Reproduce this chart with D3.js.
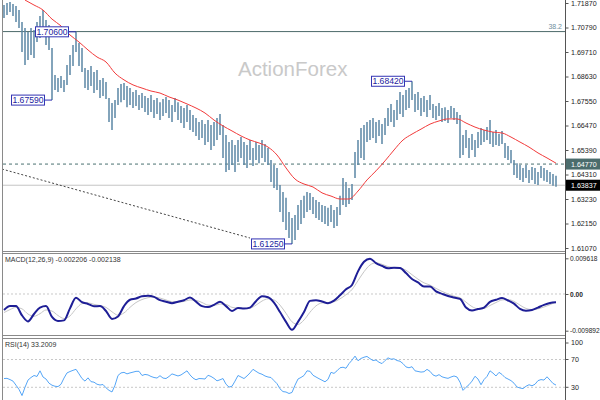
<!DOCTYPE html>
<html><head><meta charset="utf-8">
<script src="https://cdn.jsdelivr.net/npm/d3@7"></script>
<style>
body{margin:0;background:#fff}
svg{display:block}
text{font-family:"Liberation Sans",Arial,sans-serif}
</style>
</head><body>
<svg id="chart" width="600" height="400"></svg>
<script>
// ---------- DATA ----------
const barHigh = [1.7178,1.7187,1.7191,1.7183,1.7174,1.7156,1.7103,1.7077,1.7059,1.7077,
1.7068,1.7103,1.7130,1.7156,1.7112,1.7090,1.6989,1.6870,1.6856,1.6865,
1.6848,1.6914,1.6958,1.7002,1.7060,1.7011,1.6989,1.6900,1.6892,1.6909,
1.6883,1.6892,1.6848,1.6856,1.6839,1.6768,1.6746,1.6759,1.6812,1.6830,
1.6834,1.6821,1.6812,1.6795,1.6804,1.6782,1.6790,1.6777,1.6768,1.6782,
1.6759,1.6768,1.6750,1.6764,1.6773,1.6759,1.6737,1.6768,1.6750,1.6733,
1.6724,1.6737,1.6715,1.6693,1.6680,1.6662,1.6671,1.6654,1.6671,1.6649,
1.6662,1.6680,1.6698,1.6649,1.6605,1.6574,1.6583,1.6561,1.6583,1.6596,
1.6574,1.6561,1.6583,1.6548,1.6574,1.6561,1.6583,1.6565,1.6548,1.6495,
1.6473,1.6460,1.6385,1.6354,1.6328,1.6266,1.6239,1.6252,1.6297,1.6319,
1.6337,1.6354,1.6350,1.6332,1.6319,1.6310,1.6297,1.6292,1.6284,1.6297,
1.6275,1.6288,1.6337,1.6416,1.6398,1.6372,1.6389,1.6530,1.6583,1.6636,
1.6649,1.6662,1.6671,1.6680,1.6662,1.6671,1.6654,1.6680,1.6724,1.6742,
1.6715,1.6759,1.6795,1.6782,1.6804,1.6812,1.6842,1.6786,1.6795,1.6768,
1.6777,1.6759,1.6782,1.6742,1.6733,1.6746,1.6724,1.6728,1.6715,1.6733,
1.6724,1.6706,1.6693,1.6605,1.6627,1.6592,1.6609,1.6583,1.6618,1.6636,
1.6627,1.6640,1.6671,1.6618,1.6627,1.6609,1.6623,1.6570,1.6557,1.6539,
1.6495,1.6481,1.6473,1.6460,1.6473,1.6451,1.6464,1.6460,1.6442,1.6468,
1.6460,1.6451,1.6442,1.6433,1.6425];
const barLow = [1.7121,1.7134,1.7147,1.7130,1.7103,1.7077,1.6971,1.6914,1.6936,1.6958,
1.6945,1.7015,1.7033,1.7059,1.7002,1.6980,1.6759,1.6804,1.6795,1.6812,
1.6795,1.6826,1.6870,1.6909,1.6971,1.6909,1.6883,1.6812,1.6804,1.6821,
1.6790,1.6804,1.6768,1.6777,1.6764,1.6662,1.6627,1.6680,1.6737,1.6750,
1.6759,1.6728,1.6737,1.6724,1.6733,1.6715,1.6724,1.6706,1.6693,1.6706,
1.6680,1.6698,1.6671,1.6689,1.6702,1.6680,1.6662,1.6706,1.6671,1.6658,
1.6636,1.6662,1.6627,1.6618,1.6601,1.6583,1.6592,1.6561,1.6574,1.6539,
1.6557,1.6583,1.6605,1.6504,1.6442,1.6451,1.6473,1.6442,1.6486,1.6504,
1.6473,1.6460,1.6495,1.6468,1.6495,1.6481,1.6504,1.6486,1.6473,1.6398,
1.6372,1.6363,1.6266,1.6222,1.6186,1.6151,1.6125,1.6142,1.6186,1.6213,
1.6239,1.6266,1.6275,1.6257,1.6239,1.6230,1.6222,1.6213,1.6204,1.6222,
1.6195,1.6204,1.6252,1.6297,1.6288,1.6301,1.6319,1.6416,1.6473,1.6504,
1.6495,1.6574,1.6583,1.6592,1.6570,1.6601,1.6565,1.6605,1.6645,1.6662,
1.6640,1.6671,1.6698,1.6685,1.6715,1.6724,1.6759,1.6706,1.6715,1.6689,
1.6706,1.6685,1.6715,1.6680,1.6671,1.6689,1.6662,1.6667,1.6658,1.6680,
1.6671,1.6654,1.6504,1.6517,1.6548,1.6504,1.6539,1.6508,1.6548,1.6561,
1.6574,1.6583,1.6565,1.6552,1.6561,1.6557,1.6565,1.6504,1.6495,1.6481,
1.6429,1.6416,1.6407,1.6398,1.6416,1.6394,1.6407,1.6389,1.6385,1.6416,
1.6403,1.6398,1.6389,1.6381,1.6377];

const maBars = [7,10,13,16,19,22,25,28,31,34,37,40,43,46,49,52,55,58,61,64,
67,70,73,76,79,82,85,88,91,94,97,100,103,106,109,112,115,118,121,124,
127,130,133,136,139,142,145,148,151,154,157,160,163,166,169,172,175,178,181,184];
const maValues = [1.7200,1.7178,1.7156,1.7116,1.7086,1.7046,1.7015,1.6980,1.6949,1.6927,
1.6878,1.6848,1.6826,1.6812,1.6799,1.6790,1.6773,1.6759,1.6742,1.6724,
1.6702,1.6671,1.6645,1.6623,1.6601,1.6583,1.6570,1.6552,1.6517,1.6460,
1.6411,1.6389,1.6376,1.6350,1.6336,1.6323,1.6323,1.6358,1.6407,1.6447,
1.6491,1.6539,1.6583,1.6609,1.6631,1.6653,1.6667,1.6676,1.6676,1.6658,
1.6640,1.6627,1.6618,1.6614,1.6596,1.6574,1.6552,1.6526,1.6504,1.6481];

const macdValues = [-0.00433,-0.00326,-0.00326,-0.00579,-0.00738,-0.00539,-0.00366,-0.00326,-0.00618,-0.00725,
-0.00711,-0.00387,-0.00101,-0.00220,-0.00268,-0.00332,-0.00326,-0.00459,-0.00671,-0.00605,
-0.00326,-0.00154,-0.00122,-0.00061,-0.00050,-0.00077,-0.00167,-0.00207,-0.00247,-0.00207,
-0.00167,-0.00096,-0.00207,-0.00326,-0.00353,-0.00292,-0.00212,-0.00326,-0.00459,-0.00380,
-0.00393,-0.00366,-0.00194,-0.00061,-0.00088,-0.00234,-0.00486,-0.00751,-0.00963,-0.00751,
-0.00486,-0.00186,-0.00167,-0.00202,-0.00247,-0.00180,-0.00035,0.00125,0.00244,0.00610,
0.00868,0.00950,0.00833,0.00756,0.00695,0.00709,0.00701,0.00563,0.00403,0.00311,
0.00204,0.00204,0.00072,0.00005,-0.00056,-0.00096,-0.00130,-0.00366,-0.00446,-0.00406,
-0.00366,-0.00212,-0.00157,-0.00109,-0.00175,-0.00260,-0.00401,-0.00449,-0.00433,-0.00366,
-0.00295,-0.00242,-0.002206];
const signalValues = [-0.0050,-0.0042,-0.0036,-0.0040,-0.0054,-0.0060,-0.0053,-0.0043,-0.0046,-0.0058,
-0.0066,-0.0059,-0.0040,-0.0026,-0.0024,-0.0028,-0.0031,-0.0036,-0.0048,-0.0057,
-0.0051,-0.0036,-0.0023,-0.0015,-0.0010,-0.0008,-0.0011,-0.0016,-0.0021,-0.0022,
-0.0020,-0.0016,-0.0017,-0.0023,-0.0030,-0.0031,-0.0027,-0.0028,-0.0036,-0.0038,
-0.0039,-0.0038,-0.0030,-0.0019,-0.0013,-0.0016,-0.0030,-0.0052,-0.0075,-0.0082,
-0.0070,-0.0049,-0.0032,-0.0024,-0.0023,-0.0021,-0.0013,-0.0002,0.0012,0.0036,
0.0060,0.0078,0.0084,0.0080,0.0074,0.0071,0.0070,0.0064,0.0052,0.0040,
0.0030,0.0024,0.0015,0.0007,0.0000,-0.0006,-0.0010,-0.0022,-0.0034,-0.0040,
-0.0039,-0.0031,-0.0023,-0.0016,-0.0015,-0.0020,-0.0030,-0.0039,-0.0042,-0.0040,
-0.0035,-0.0029,-0.002138];

const rsiValues = [42.6,42.9,41.1,38.9,33.0,27.0,18.1,30.0,40.4,44.1,
47.0,45.6,53.7,44.8,41.9,35.9,33.0,31.5,31.0,34.4,
43.3,50.7,52.7,54.4,55.9,49.3,42.6,38.9,43.6,38.1,
37.4,34.4,33.3,34.0,29.3,25.6,23.3,33.0,47.0,50.7,
51.5,49.3,50.7,51.8,53.0,53.0,47.0,48.5,47.8,45.6,
44.1,43.3,46.7,43.3,42.6,45.6,49.3,47.8,46.3,47.8,
50.7,53.7,47.8,43.3,40.8,42.6,42.4,41.9,47.3,45.6,
42.9,39.3,40.8,42.6,34.4,30.3,31.5,38.9,47.0,44.8,
42.6,46.3,50.7,55.9,53.0,50.3,48.8,46.3,44.8,44.1,
39.6,35.2,27.8,23.8,23.2,21.1,22.6,33.0,41.9,44.2,
47.0,53.7,53.0,47.3,44.8,42.4,40.2,37.9,41.4,51.5,
50.0,53.7,58.1,58.9,57.4,64.1,69.0,74.9,68.2,71.5,
73.3,74.4,71.2,68.5,69.3,66.0,64.1,68.5,72.4,70.4,
71.0,68.5,67.5,64.1,59.3,58.1,59.6,53.7,52.8,51.9,
52.4,55.8,53.0,47.8,46.0,48.2,45.1,43.8,42.9,44.8,
46.3,44.8,37.4,25.6,30.0,33.7,38.9,45.9,41.9,33.7,
41.1,45.6,53.7,50.4,46.3,51.5,48.5,44.1,41.9,39.6,
35.9,30.4,29.0,28.1,31.5,33.7,32.2,34.4,39.6,41.1,
40.4,45.1,40.4,35.5,33.2];

const priceTicks = [1.71870,1.70790,1.69710,1.68630,1.67550,1.66470,1.65390,1.64310,1.63230,1.62150,1.61070];
const macdTicks = [0.009618,0,-0.009892];
const rsiTicks = [100,70,30];
const rsiLevels = [70,30];

const annBars = [24,16,136,96];
const annPrices = [1.70600,1.67590,1.68420,1.61250];

const fibLevel = 1.7061, fibLabel = "38.2";
const resistLevel = 1.64770;
const lastPrice = 1.63837;
const trendBars = [-0.67,82];
const trendPrices = [1.6455,1.6151];

const macdTitle = "MACD(12,26,9) -0.002206 -0.002138";
const rsiTitle = "RSI(14) 33.2009";
const watermark = "ActionForex";

// ---------- SCALES ----------
const svg = d3.select("#chart");
const N = barHigh.length;
const AX = 565;
const x = d3.scaleLinear().domain([0, N-1]).range([4, 556]);
const yP = d3.scaleLinear().domain([1.6107, 1.7187]).range([248, 3]);
const yM = d3.scaleLinear().domain([-0.009892, 0.009618]).range([330.7, 258.3]);
const yR = d3.scaleLinear().domain([30, 70]).range([387.3, 359.5]);
const macdBars = d3.range(0, N, 2);

svg.append("rect").attr("width",600).attr("height",400).attr("fill","#fff");
const defs = svg.append("defs");
function clip(id,x0,y0,w,h){defs.append("clipPath").attr("id",id).append("rect").attr("x",x0).attr("y",y0).attr("width",w).attr("height",h);}
clip("cMain",3,0,AX-3,251);
clip("cMacd",3,254,AX-3,81);
clip("cRsi",3,339,AX-3,61);

// ---------- MAIN PANEL ----------
const main = svg.append("g").attr("clip-path","url(#cMain)");
main.append("text").attr("x",238).attr("y",76).attr("font-size",20.5)
  .attr("fill","#c9c9c9").text(watermark);

main.append("line").attr("x1",3).attr("x2",AX).attr("y1",yP(fibLevel)).attr("y2",yP(fibLevel))
  .attr("stroke","#4c6a6a").attr("stroke-width",1);
main.append("text").attr("x",AX-3).attr("y",yP(fibLevel)-3).attr("text-anchor","end")
  .attr("font-size",7).attr("fill","#6f8fa0").text(fibLabel);

main.append("line").attr("x1",3).attr("x2",AX).attr("y1",yP(resistLevel)).attr("y2",yP(resistLevel))
  .attr("stroke","#4a7070").attr("stroke-dasharray","3,3");
main.append("line").attr("x1",3).attr("x2",AX).attr("y1",yP(lastPrice)).attr("y2",yP(lastPrice))
  .attr("stroke","#c4c4c4");

main.append("line")
  .attr("x1",x(trendBars[0])).attr("y1",yP(trendPrices[0]))
  .attr("x2",x(trendBars[1])).attr("y2",yP(trendPrices[1]))
  .attr("stroke","#444").attr("stroke-dasharray","2,2");

main.append("g").selectAll("line").data(d3.range(N)).join("line")
  .attr("x1",i=>x(i)).attr("x2",i=>x(i))
  .attr("y1",i=>yP(barHigh[i])).attr("y2",i=>yP(barLow[i]))
  .attr("stroke","#5a86a4").attr("stroke-width",1.5);

main.append("path").datum(maBars.map((b,k)=>[b,maValues[k]]))
  .attr("fill","none").attr("stroke","#f23b3b").attr("stroke-width",1)
  .attr("d",d3.line().x(d=>x(d[0])).y(d=>yP(d[1])).curve(d3.curveMonotoneX));

const fmtP = d3.format(".5f");
const ann = main.append("g");
annBars.forEach((b,k)=>{
  const bx = x(b), by = yP(annPrices[k]);
  ann.append("line").attr("x1",bx-7).attr("x2",bx).attr("y1",by).attr("y2",by)
    .attr("stroke","#3030b0");
  ann.append("rect").attr("x",bx-40.5).attr("y",by-5).attr("width",33).attr("height",10)
    .attr("fill","#fff").attr("stroke","#3434b4");
  ann.append("text").attr("x",bx-24).attr("y",by+3.2).attr("text-anchor","middle")
    .attr("font-size",8.6).attr("fill","#1c1ca0").text(fmtP(annPrices[k]));
});

// ---------- MACD PANEL ----------
const mg = svg.append("g").attr("clip-path","url(#cMacd)");
mg.append("line").attr("x1",3).attr("x2",AX).attr("y1",yM(0)).attr("y2",yM(0))
  .attr("stroke","#c8c8c8").attr("stroke-dasharray","2,2");
mg.append("path").datum(macdBars.map((b,k)=>[b,signalValues[k]]))
  .attr("fill","none").attr("stroke","#c6c6c6").attr("stroke-width",1)
  .attr("d",d3.line().x(d=>x(d[0])).y(d=>yM(d[1])).curve(d3.curveMonotoneX));
mg.append("path").datum(macdBars.map((b,k)=>[b,macdValues[k]]))
  .attr("fill","none").attr("stroke","#1e1e96").attr("stroke-width",2)
  .attr("d",d3.line().x(d=>x(d[0])).y(d=>yM(d[1])).curve(d3.curveMonotoneX));
svg.append("text").attr("x",5).attr("y",262).attr("font-size",7).attr("fill","#333").text(macdTitle);

// ---------- RSI PANEL ----------
const rg = svg.append("g").attr("clip-path","url(#cRsi)");
rg.selectAll("line.lvl").data(rsiLevels).join("line")
  .attr("x1",3).attr("x2",AX).attr("y1",d=>yR(d)).attr("y2",d=>yR(d))
  .attr("stroke","#c8c8c8").attr("stroke-dasharray","2,2");
rg.append("path").datum(rsiValues)
  .attr("fill","none").attr("stroke","#55a6f7").attr("stroke-width",1)
  .attr("d",d3.line().x((d,i)=>x(i)).y(d=>yR(d)));
svg.append("text").attr("x",5).attr("y",347).attr("font-size",7).attr("fill","#333").text(rsiTitle);

// ---------- FRAMES ----------
const fr = svg.append("g").attr("stroke","#8a8a8a").attr("fill","none");
fr.append("line").attr("x1",2.5).attr("x2",2.5).attr("y1",0).attr("y2",400);
[251.5,253.5,335.5,338.5].forEach(yy=>fr.append("line").attr("x1",2).attr("x2",AX).attr("y1",yy).attr("y2",yy));
svg.append("line").attr("x1",AX+0.5).attr("x2",AX+0.5).attr("y1",0).attr("y2",400).attr("stroke","#555");

// ---------- AXES ----------
function styleAxis(size){
  return g=>{
    g.select(".domain").remove();
    g.selectAll("line").attr("stroke","#555");
    g.selectAll("text").attr("font-size",size).attr("fill","#1e1e1e")
      .attr("font-family","'Liberation Sans',Arial,sans-serif");
  };
}
svg.append("g").attr("transform",`translate(${AX+0.5},0)`)
  .call(d3.axisRight(yP).tickValues(priceTicks).tickFormat(fmtP).tickSize(3).tickPadding(2.5))
  .call(styleAxis(7.1));
svg.append("g").attr("transform",`translate(${AX+0.5},0)`)
  .call(d3.axisRight(yM).tickValues(macdTicks).tickFormat(d=>d===0?"0.00":d.toFixed(6)).tickSize(3).tickPadding(1.5))
  .call(styleAxis(6.6))
  .selectAll("text").attr("font-weight",d=>d===0?"bold":"normal");
const ra = svg.append("g").attr("transform",`translate(${AX+0.5},0)`)
  .call(d3.axisRight(yR).tickValues(rsiTicks).tickFormat(d3.format("d")).tickSize(3).tickPadding(2.5))
  .call(styleAxis(7.1));
ra.selectAll(".tick").attr("transform",d=>`translate(0,${Math.max(yR(d),343)})`);

// ---------- PRICE BOXES ----------
[[resistLevel,"#4b6c6c"],[lastPrice,"#000"]].forEach(([v,c])=>{
  const yy = yP(v);
  svg.append("rect").attr("x",AX+1).attr("y",yy-5.5).attr("width",600-AX-1).attr("height",11).attr("fill",c);
  svg.append("text").attr("x",AX+6).attr("y",yy+2.6).attr("font-size",7.1).attr("fill","#fff").text(fmtP(v));
});
</script>
</body></html>
